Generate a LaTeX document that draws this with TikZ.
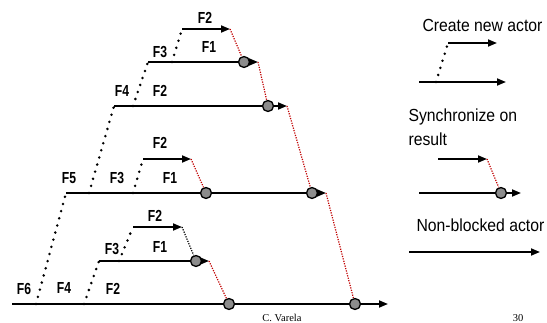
\documentclass[tikz,border=0pt]{standalone}
\usepackage{fontspec}
\setmainfont{Liberation Sans}
\newfontfamily\legfont[FakeStretch=0.9]{Liberation Sans}
\newfontfamily\lblfont[FakeStretch=0.76]{Liberation Sans}
\newfontfamily\footfont{Liberation Serif}
\usetikzlibrary{arrows.meta}
\definecolor{syncred}{HTML}{C00000}
\definecolor{joingrey}{HTML}{8C8C8C}

\begin{document}
\begin{tikzpicture}[x=1pt,y=-1pt,
  actor/.style={line width=1.8pt,-{Triangle[length=9pt,width=7pt]}},
  spawn/.style={line width=2.8pt,line cap=round,dash pattern=on 0pt off 7.4pt},
  syncline/.style={syncred,line width=1.2pt,dash pattern=on 1.2pt off 1.3pt},
  waitline/.style={black,line width=1.2pt,dash pattern=on 1.2pt off 1.3pt},
  jnode/.style={circle,draw,fill=joingrey,line width=1.3pt,minimum size=11pt,inner sep=0},
  flabel/.style={font=\lblfont\bfseries\fontsize{16}{18}\selectfont},
  ltext/.style={anchor=west,font=\legfont\fontsize{17.5}{20}\selectfont}]
  \useasboundingbox (0,0) rectangle (547,323);
  \foreach \n/\x/\y in {aS/12/304, aT/388/304, bS/66/193, bT/326/193, cS/114/106, cT/287/106,
    dS/148/62, dT/258/62, eS/182/29, eT/230/29, fS/143/159, fT/191/159,
    gS/99/261, gT/209/261, hS/133/227, hT/182/227,
    a1/36/304, a2/84/304, b1/89/193, b2/133/193, c1/133/106, d1/172/62, g1/119/261,
    lAS/419/82, lAT/506/82, lA1/436/82, lBS/448/43, lBT/497/43,
    lCS/438/159, lCT/487/159, lDS/419/193, lDT/521/193, lES/409/252, lET/540/252}{
      \coordinate (\n) at (\x,\y);
  }
  \foreach \r in {a,b,c,d,e,f,g,h,lA,lB,lC,lD,lE}{
      \draw[actor] (\r S)--(\r T);
  }
  \foreach \n/\x/\y in {ja1/229/304, ja2/355/304, jb1/206/193, jb2/312/193,
    jc/268/106, jd/244/62, jg/196/261, jl/501/193}{
      \node[jnode] (\n) at (\x,\y) {};
  }
  \foreach \a/\b in {a1/bS, a2/gS, b1/cS, b2/fS, c1/dS, d1/eS, g1/hS, lA1/lBS}{
      \draw[spawn] (\a)--(\b);
  }
  \foreach \a/\b in {eT/jd, dT/jc, cT/jb2, bT/ja2, fT/jb1, gT/ja1, lCT/jl}{
      \draw[syncline] (\a)--(\b);
  }
  \draw[waitline] (hT)--(jg);
  \foreach [count=\i] \t/\x/\y in {F2/205/18, F3/160/52, F1/209/47, F4/122/91, F2/160/91,
    F2/160/143, F5/69/178, F3/117/178, F1/170/178, F2/155/216, F3/112/249, F1/160/247,
    F6/24/289, F4/64/288, F2/113/289}{
      \node[flabel] (f\i) at (\x,\y) {\t};
  }
  \node[ltext] (create) at (419,25) {Create new actor};
  \node[ltext] (sync) at (405,117) {Synchronize on};
  \node[ltext] (result) at (405,139) {result};
  \node[ltext] (nonblock) at (413,225) {Non-blocked actor};
  \node[font=\footfont\fontsize{10.5}{12}\selectfont] (author) at (282,318) {C. Varela};
  \node[font=\footfont\fontsize{10.5}{12}\selectfont] (page) at (518,318) {30};
\end{tikzpicture}
\end{document}
